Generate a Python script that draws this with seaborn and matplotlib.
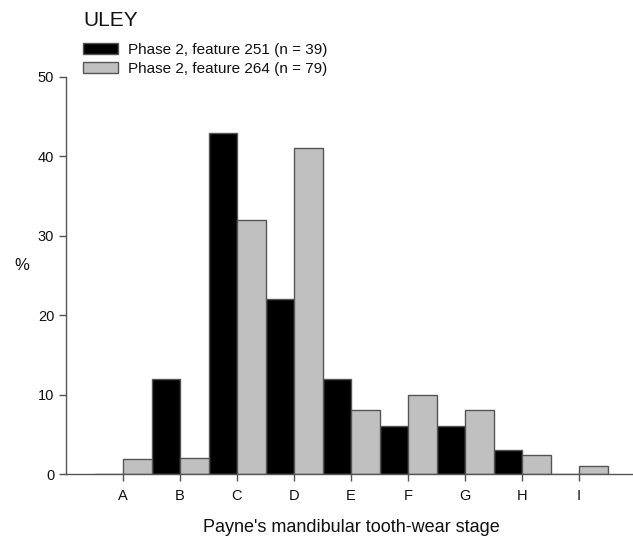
import matplotlib
matplotlib.use("Agg")
import matplotlib.pyplot as plt
import seaborn as sns
import pandas as pd

stages = ["A", "B", "C", "D", "E", "F", "G", "H", "I"]
feature_251 = [0, 12, 43, 22, 12, 6, 6, 3, 0]
feature_264 = [1.9, 2, 32, 41, 8, 10, 8, 2.4, 1]
series_names = ["Phase 2, feature 251 (n = 39)", "Phase 2, feature 264 (n = 79)"]
y_ticks = [0, 10, 20, 30, 40, 50]

df = pd.DataFrame({
    "stage": stages * 2,
    "pct": feature_251 + feature_264,
    "series": [series_names[0]] * len(stages) + [series_names[1]] * len(stages),
})

sns.set_theme(style="white")
plt.rcParams["font.family"] = ["Liberation Sans", "DejaVu Sans"]

W, H = 633, 541
fig = plt.figure(figsize=(W / 100, H / 100), dpi=100)
ax = fig.add_axes([66 / W, (H - 474) / H, 570 / W, (474 - 77) / H])

sns.barplot(data=df, x="stage", y="pct", hue="series", order=stages,
            hue_order=series_names, palette=["#000000", "#c0c0c0"],
            width=1.0, edgecolor="#555555", linewidth=1.0, ax=ax,
            legend=True, saturation=1)

ax.set_xlim(-1, 9)
ax.set_ylim(0, 50)
ax.set_yticks(y_ticks)
for s in ["top", "right"]:
    ax.spines[s].set_visible(False)
for s in ["left", "bottom"]:
    ax.spines[s].set_color("#555555")
    ax.spines[s].set_linewidth(1.0)
ax.tick_params(axis="both", direction="out", length=5, width=1.0,
               color="#555555", labelsize=10.5, labelcolor="#111111",
               bottom=True, left=True)
ax.tick_params(axis="x", pad=6)
ax.set_xlabel("Payne's mandibular tooth-wear stage", fontsize=13,
              color="#111111", labelpad=11)
ax.set_ylabel("%", fontsize=12, rotation=0, color="#111111", va="center")
ax.yaxis.set_label_coords(-0.078, 0.525)

leg = ax.legend(loc="upper left", bbox_to_anchor=(17 / 570, 1 + 34 / 397),
                frameon=False, fontsize=11, handlelength=2.3,
                handleheight=0.7, handletextpad=0.65, labelspacing=0.32,
                borderaxespad=0, borderpad=0)
for t in leg.get_texts():
    t.set_color("#111111")

fig.text(83 / W, 1 - 20 / H, "ULEY", fontsize=15, va="center", ha="left",
         color="#111111")

fig.savefig("out.png", dpi=100)
